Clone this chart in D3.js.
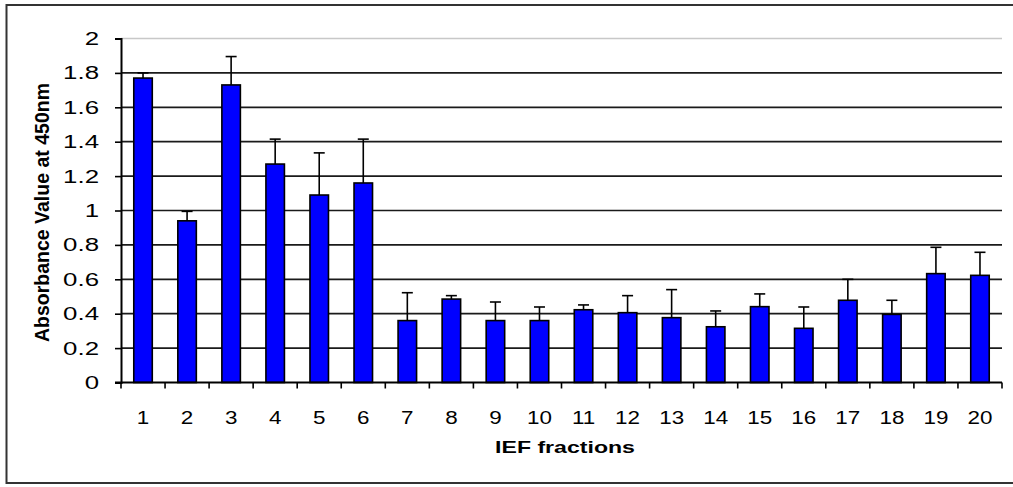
<!DOCTYPE html>
<html>
<head>
<meta charset="utf-8">
<script src="https://cdn.jsdelivr.net/npm/d3@7"></script>
<style>
  html, body { margin: 0; padding: 0; background: #fff; }
  svg { display: block; font-family: "Liberation Sans", Arial, sans-serif; }
</style>
</head>
<body>
<svg id="chart" width="1013" height="487"></svg>
<script>
// IEF fraction numbers
const fractions = ["1","2","3","4","5","6","7","8","9","10","11","12","13","14","15","16","17","18","19","20"];
// Mean absorbance at 450 nm per fraction
const absorbance = [1.77, 0.94, 1.73, 1.27, 1.09, 1.16, 0.36, 0.485, 0.36, 0.36, 0.423, 0.406, 0.377, 0.324, 0.441, 0.315, 0.478, 0.396, 0.633, 0.623];
// Upper error (standard deviation) per fraction
const errorUp = [0.03, 0.055, 0.165, 0.145, 0.245, 0.255, 0.162, 0.02, 0.108, 0.079, 0.028, 0.099, 0.163, 0.092, 0.074, 0.124, 0.122, 0.082, 0.153, 0.134];
// Y axis tick values
const yTicks = [0, 0.2, 0.4, 0.6, 0.8, 1, 1.2, 1.4, 1.6, 1.8, 2];

const svg = d3.select("#chart");
const plotLeft = 121, plotRight = 1002, plotTop = 38.5, plotBottom = 382.5;

const x = d3.scaleBand().domain(fractions).range([plotLeft, plotRight]).paddingInner(0.58).paddingOuter(0.29);
const xb = d3.scaleBand().domain(fractions).range([plotLeft, plotRight]);
const y = d3.scaleLinear().domain([0, 2]).range([plotBottom, plotTop]);

// outer frame
svg.append("rect")
  .attr("x", 6.5).attr("y", 5).attr("width", 1010).attr("height", 478)
  .attr("fill", "none").attr("stroke", "#333").attr("stroke-width", 2);

// horizontal gridlines
svg.append("g").selectAll("line")
  .data(yTicks.filter(d => d > 0))
  .join("line")
  .attr("x1", plotLeft).attr("x2", plotRight)
  .attr("y1", d => y(d)).attr("y2", d => y(d))
  .attr("stroke", d => d === 2 ? "#c8c8c8" : "#1a1a1a")
  .attr("stroke-width", 1.7);

// bars
svg.append("g").selectAll("rect")
  .data(fractions)
  .join("rect")
  .attr("x", d => x(d))
  .attr("width", x.bandwidth())
  .attr("y", (d, i) => y(absorbance[i]))
  .attr("height", (d, i) => y(0) - y(absorbance[i]))
  .attr("fill", "#0000ff")
  .attr("stroke", "#000")
  .attr("stroke-width", 1.6);

// error bars (upper only)
const eb = svg.append("g").attr("stroke", "#000").attr("stroke-width", 1.6);
fractions.forEach((f, i) => {
  const cx = x(f) + x.bandwidth() / 2;
  const y0 = y(absorbance[i]);
  const y1 = y(absorbance[i] + errorUp[i]);
  eb.append("line").attr("x1", cx).attr("x2", cx).attr("y1", y0).attr("y2", y1);
  eb.append("line").attr("x1", cx - 5.5).attr("x2", cx + 5.5).attr("y1", y1).attr("y2", y1);
});

// y axis
const yAxis = svg.append("g")
  .attr("transform", `translate(${plotLeft},0)`)
  .call(d3.axisLeft(y).tickValues(yTicks).tickSize(6).tickPadding(15)
    .tickFormat(d => d3.format("")(d)));
yAxis.select(".domain").attr("stroke", "#000").attr("stroke-width", 2);
yAxis.selectAll(".tick line").attr("stroke", "#000").attr("stroke-width", 1.6);
yAxis.selectAll(".tick text")
  .attr("x", 0)
  .attr("transform", "translate(-22,0) scale(1.36,1)")
  .attr("font-size", 19).attr("fill", "#000")
  .attr("font-family", "Liberation Sans, Arial, sans-serif");

// x axis line and category boundary ticks
const xg = svg.append("g");
xg.append("line")
  .attr("x1", plotLeft - 6).attr("x2", plotRight).attr("y1", plotBottom).attr("y2", plotBottom)
  .attr("stroke", "#000").attr("stroke-width", 2);
xg.selectAll("line.tk")
  .data(fractions.concat(["end"]))
  .join("line").attr("class", "tk")
  .attr("x1", (d, i) => i < fractions.length ? xb(d) : plotRight)
  .attr("x2", (d, i) => i < fractions.length ? xb(d) : plotRight)
  .attr("y1", plotBottom).attr("y2", plotBottom + 6)
  .attr("stroke", "#000").attr("stroke-width", 1.6);
xg.selectAll("text")
  .data(fractions)
  .join("text")
  .attr("transform", d => `translate(${xb(d) + xb.bandwidth() / 2},423.5) scale(1.18,1)`)
  .attr("text-anchor", "middle")
  .attr("font-size", 19)
  .text(d => d);

// axis titles
svg.append("text")
  .attr("transform", "translate(565,453) scale(1.4,1)")
  .attr("text-anchor", "middle")
  .attr("font-size", 16.5).attr("font-weight", "bold")
  .text("IEF fractions");

svg.append("text")
  .attr("transform", `translate(49,${(plotTop + plotBottom) / 2 + 2}) rotate(-90)`)
  .attr("text-anchor", "middle")
  .attr("font-size", 19.5).attr("font-weight", "bold")
  .text("Absorbance Value at 450nm");
</script>
</body>
</html>
